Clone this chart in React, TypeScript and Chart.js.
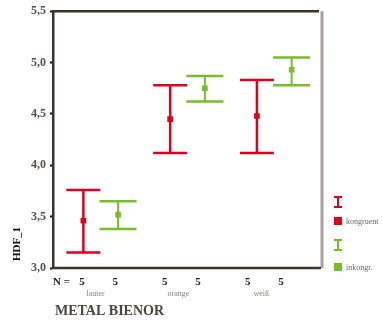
import React, { useEffect, useRef } from "react";
import { Chart, registerables } from "chart.js";

Chart.register(...registerables);

// ---- data ----
const categories = ["lauter", "orange", "weiß"];
const seriesNames = ["kongruent", "inkongr."];
const nRed = [5, 5, 5];
const nGreen = [5, 5, 5];
const redMean = [3.46, 4.45, 4.48];
const redLow = [3.15, 4.12, 4.12];
const redHigh = [3.76, 4.78, 4.83];
const greenMean = [3.52, 4.75, 4.93];
const greenLow = [3.38, 4.62, 4.78];
const greenHigh = [3.65, 4.87, 5.05];
const yTicks = [3.0, 3.5, 4.0, 4.5, 5.0, 5.5];
const xTitle = "METAL BIENOR";
const yTitle = "HDF_1";
const nLabel = "N =";

// ---- styles ----
const RED = "#e0001c";
const GREEN = "#78be28";
const DARK = "#3b3330";
const GRAY = "#a8a09c";
const TEXT = "#555050";
const SERIF = "'Liberation Serif', 'DejaVu Serif', serif";
const DODGE = 0.2;
const LABEL_SQUEEZE = 0.955;

const series = [
  { mean: redMean, low: redLow, high: redHigh, n: nRed, color: RED, dodge: -DODGE, cap: 34, vw: 2.5 },
  { mean: greenMean, low: greenLow, high: greenHigh, n: nGreen, color: GREEN, dodge: DODGE, cap: 37, vw: 2 },
];

const customPlugin = {
  id: "spssErrorBars",
  beforeDatasetsDraw(chart: any) {
    const { ctx, scales } = chart;
    const x = scales.x;
    const y = scales.y;
    ctx.save();
    series.forEach((s) => {
      s.mean.forEach((_m: number, i: number) => {
        const px = x.getPixelForValue(i + s.dodge);
        const yl = y.getPixelForValue(s.low[i]);
        const yh = y.getPixelForValue(s.high[i]);
        ctx.strokeStyle = s.color;
        ctx.lineWidth = s.vw;
        ctx.beginPath();
        ctx.moveTo(px, yl);
        ctx.lineTo(px, yh);
        ctx.stroke();
        ctx.lineWidth = 2.5;
        ctx.beginPath();
        ctx.moveTo(px - s.cap / 2, yl);
        ctx.lineTo(px + s.cap / 2, yl);
        ctx.moveTo(px - s.cap / 2, yh);
        ctx.lineTo(px + s.cap / 2, yh);
        ctx.stroke();
      });
    });
    ctx.restore();
  },
  afterDraw(chart: any) {
    const { ctx, chartArea, scales } = chart;
    const x = scales.x;
    const { left, right, top, bottom } = chartArea;
    ctx.save();
    // frame
    ctx.strokeStyle = GRAY;
    ctx.lineWidth = 3;
    ctx.beginPath();
    ctx.moveTo(right, top);
    ctx.lineTo(right, bottom);
    ctx.stroke();
    ctx.strokeStyle = DARK;
    ctx.lineWidth = 2.5;
    ctx.beginPath();
    ctx.moveTo(left, top);
    ctx.lineTo(right - 3, top);
    ctx.stroke();
    ctx.beginPath();
    ctx.moveTo(left - 1, bottom);
    ctx.lineTo(right - 1, bottom);
    ctx.stroke();

    // x labels
    const sq = (px: number) => left + (px - left) * LABEL_SQUEEZE;
    ctx.fillStyle = "#222";
    ctx.textBaseline = "middle";
    ctx.font = `bold 11px ${SERIF}`;
    ctx.textAlign = "left";
    ctx.fillText(nLabel, left, bottom + 14);
    ctx.textAlign = "center";
    series.forEach((s) => {
      s.n.forEach((nv: number, i: number) => {
        ctx.fillText(String(nv), sq(x.getPixelForValue(i + s.dodge)), bottom + 14);
      });
    });
    ctx.fillStyle = "#8a8080";
    ctx.font = `8px ${SERIF}`;
    categories.forEach((c, i) => {
      ctx.fillText(c, sq(x.getPixelForValue(i)) - 3, bottom + 26);
    });
    ctx.fillStyle = "#4a4444";
    ctx.font = `bold 14px ${SERIF}`;
    ctx.textAlign = "left";
    ctx.fillText(xTitle, left + 2, bottom + 43);

    // y title
    ctx.save();
    ctx.translate(17, bottom - 24);
    ctx.rotate(-Math.PI / 2);
    ctx.font = `bold 11px ${SERIF}`;
    ctx.fillStyle = "#111";
    ctx.textAlign = "center";
    ctx.fillText(yTitle, 0, 0);
    ctx.restore();

    // legend
    const lx = right + 16;
    const items = [
      { color: RED, yBar: 202, ySq: 221, label: seriesNames[0] },
      { color: GREEN, yBar: 245, ySq: 267, label: seriesNames[1] },
    ];
    items.forEach((it) => {
      ctx.strokeStyle = it.color;
      ctx.lineWidth = 2;
      ctx.beginPath();
      ctx.moveTo(lx - 4, it.yBar - 5);
      ctx.lineTo(lx + 4, it.yBar - 5);
      ctx.moveTo(lx - 4, it.yBar + 5);
      ctx.lineTo(lx + 4, it.yBar + 5);
      ctx.moveTo(lx, it.yBar - 5);
      ctx.lineTo(lx, it.yBar + 5);
      ctx.stroke();
      ctx.fillStyle = it.color;
      ctx.fillRect(lx - 4, it.ySq - 4, 8, 8);
      ctx.fillStyle = "#666";
      ctx.font = `8px ${SERIF}`;
      ctx.textAlign = "left";
      ctx.fillText(it.label, lx + 8, it.ySq + 1);
    });
    ctx.restore();
  },
};

export default function App() {
  const ref = useRef<HTMLCanvasElement | null>(null);
  useEffect(() => {
    if (!ref.current) return;
    const chart = new Chart(ref.current, {
      type: "scatter",
      data: {
        datasets: series.map((s) => ({
          data: s.mean.map((m, i) => ({ x: i + s.dodge, y: m })),
          pointStyle: "rect",
          pointRadius: 4,
          pointHoverRadius: 4,
          backgroundColor: s.color,
          borderColor: s.color,
          borderWidth: 0,
        })),
      },
      options: {
        responsive: false,
        animation: false,
        events: [],
        layout: { padding: { left: 0, right: 60, top: 11, bottom: 54 } },
        plugins: { legend: { display: false }, tooltip: { enabled: false }, title: { display: false } },
        scales: {
          x: { type: "linear", min: -0.55, max: 2.55, display: false },
          y: {
            type: "linear",
            min: 3,
            max: 5.5,
            afterFit: (s: any) => {
              s.width = 53;
            },
            afterBuildTicks: (s: any) => {
              s.ticks = yTicks.map((v) => ({ value: v }));
            },
            border: { display: true, color: DARK, width: 2.5 },
            grid: { display: true, drawOnChartArea: false, drawTicks: true, tickLength: 3, tickColor: "#111", tickWidth: 2 },
            ticks: {
              padding: 4,
              color: TEXT,
              font: { family: SERIF, size: 12, weight: "bold" },
              callback: (v: any) => Number(v).toFixed(1).replace(".", ","),
            },
          },
        },
      },
      plugins: [customPlugin],
    } as any);
    return () => chart.destroy();
  }, []);
  return (
    <div style={{ position: "absolute", left: 0, top: 0, width: 382, height: 322, background: "#fff" }}>
      <canvas ref={ref} width={382} height={322} />
    </div>
  );
}
